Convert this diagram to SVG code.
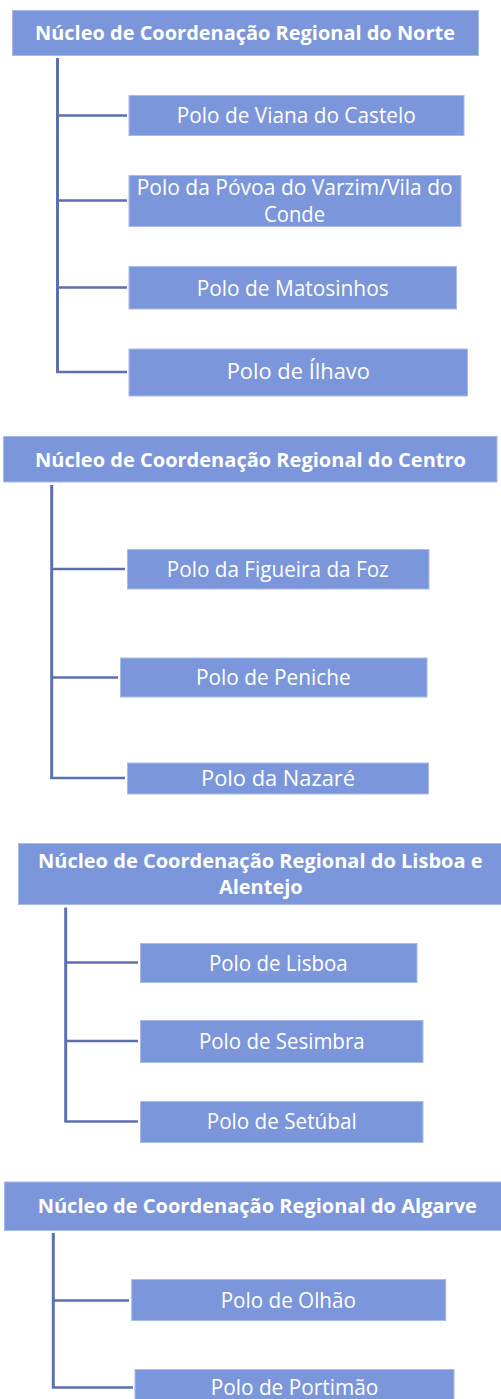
<svg xmlns="http://www.w3.org/2000/svg" width="501" height="1399" viewBox="0 0 501 1399">
<style>
.box{fill:#7b96da;stroke:#a8bae9;stroke-width:1}
.hd{font-family:"Open Sans","Liberation Sans",sans-serif;font-weight:bold;font-size:20px;fill:#ffffff;text-anchor:middle}
.tx{font-family:"Open Sans","Liberation Sans",sans-serif;font-size:21px;fill:#ffffff;text-anchor:middle}
.ln{fill:none;stroke:#5c70b0;stroke-width:3}
.br{fill:none;stroke:#5c70b0;stroke-width:2.5}
</style>
<g id="connectors">
<path class="ln" d="M57.5,58 V373"/>
<path class="br" d="M57.5,115.5 H127 M57.5,200.5 H127 M57.5,287.5 H127 M56,372 H127"/>
<path class="ln" d="M51.7,485 V779"/>
<path class="br" d="M51.7,569 H125 M51.7,677.5 H118 M50.5,778 H125"/>
<path class="ln" d="M65.7,907.5 V1122"/>
<path class="br" d="M65.7,962.5 H138 M65.7,1041 H138 M64.5,1121.5 H138"/>
<path class="ln" d="M53.3,1233 V1388"/>
<path class="br" d="M53.3,1300.5 H129 M52,1387.5 H133"/>
</g>
<g id="norte">
<rect class="box" x="12.5" y="10.5" width="466" height="45"/>
<text class="hd" x="245" y="39.5" textLength="420" lengthAdjust="spacingAndGlyphs">Núcleo de Coordenação Regional do Norte</text>
</g>
<g id="viana">
<rect class="box" x="129" y="95.5" width="335" height="40"/>
<text class="tx" x="296.3" y="122.7" textLength="239" lengthAdjust="spacingAndGlyphs">Polo de Viana do Castelo</text>
</g>
<g id="povoa">
<rect class="box" x="129" y="175.5" width="332" height="51"/>
<text class="tx" x="294.7" y="195" textLength="316" lengthAdjust="spacingAndGlyphs">Polo da Póvoa do Varzim/Vila do</text>
<text class="tx" x="294.5" y="221.7" textLength="61" lengthAdjust="spacingAndGlyphs">Conde</text>
</g>
<g id="matosinhos">
<rect class="box" x="129" y="266.5" width="327.5" height="42.5"/>
<text class="tx" x="292.7" y="295.7" textLength="192" lengthAdjust="spacingAndGlyphs">Polo de Matosinhos</text>
</g>
<g id="ilhavo">
<rect class="box" x="129" y="349" width="338.5" height="47"/>
<text class="tx" x="298.3" y="379.3" textLength="143.3" lengthAdjust="spacingAndGlyphs">Polo de Ílhavo</text>
</g>
<g id="centro">
<rect class="box" x="3.5" y="436.5" width="493.5" height="45.5"/>
<text class="hd" x="250.5" y="466.7" textLength="431" lengthAdjust="spacingAndGlyphs">Núcleo de Coordenação Regional do Centro</text>
</g>
<g id="figueira">
<rect class="box" x="127.5" y="549.5" width="301.5" height="39.5"/>
<text class="tx" x="277.8" y="576.7" textLength="222" lengthAdjust="spacingAndGlyphs">Polo da Figueira da Foz</text>
</g>
<g id="peniche">
<rect class="box" x="120.5" y="658" width="306.5" height="39"/>
<text class="tx" x="273.3" y="685" textLength="154.7" lengthAdjust="spacingAndGlyphs">Polo de Peniche</text>
</g>
<g id="nazare">
<rect class="box" x="127.5" y="763" width="301" height="31"/>
<text class="tx" x="278" y="785.7" textLength="154" lengthAdjust="spacingAndGlyphs">Polo da Nazaré</text>
</g>
<g id="lisboa-alentejo">
<rect class="box" x="18.5" y="843.5" width="483" height="61"/>
<text class="hd" x="260.3" y="867.7" textLength="444.7" lengthAdjust="spacingAndGlyphs">Núcleo de Coordenação Regional do Lisboa e</text>
<text class="hd" x="260.8" y="894.3" textLength="83.7" lengthAdjust="spacingAndGlyphs">Alentejo</text>
</g>
<g id="lisboa">
<rect class="box" x="140.5" y="943.5" width="276.5" height="39"/>
<text class="tx" x="278.3" y="970.7" textLength="138.7" lengthAdjust="spacingAndGlyphs">Polo de Lisboa</text>
</g>
<g id="sesimbra">
<rect class="box" x="140.5" y="1020.5" width="282.5" height="42"/>
<text class="tx" x="281.8" y="1049.3" textLength="165.7" lengthAdjust="spacingAndGlyphs">Polo de Sesimbra</text>
</g>
<g id="setubal">
<rect class="box" x="140.5" y="1101.5" width="282.5" height="41"/>
<text class="tx" x="281.7" y="1129.3" textLength="150" lengthAdjust="spacingAndGlyphs">Polo de Setúbal</text>
</g>
<g id="algarve">
<rect class="box" x="4.5" y="1182" width="497" height="48.5"/>
<text class="hd" x="257.3" y="1213.3" textLength="439.3" lengthAdjust="spacingAndGlyphs">Núcleo de Coordenação Regional do Algarve</text>
</g>
<g id="olhao">
<rect class="box" x="131.7" y="1279.5" width="314" height="41"/>
<text class="tx" x="288.3" y="1307.7" textLength="135.3" lengthAdjust="spacingAndGlyphs">Polo de Olhão</text>
</g>
<g id="portimao">
<rect class="box" x="135" y="1369.5" width="319" height="35"/>
<text class="tx" x="294.5" y="1395" textLength="167.7" lengthAdjust="spacingAndGlyphs">Polo de Portimão</text>
</g>
</svg>
